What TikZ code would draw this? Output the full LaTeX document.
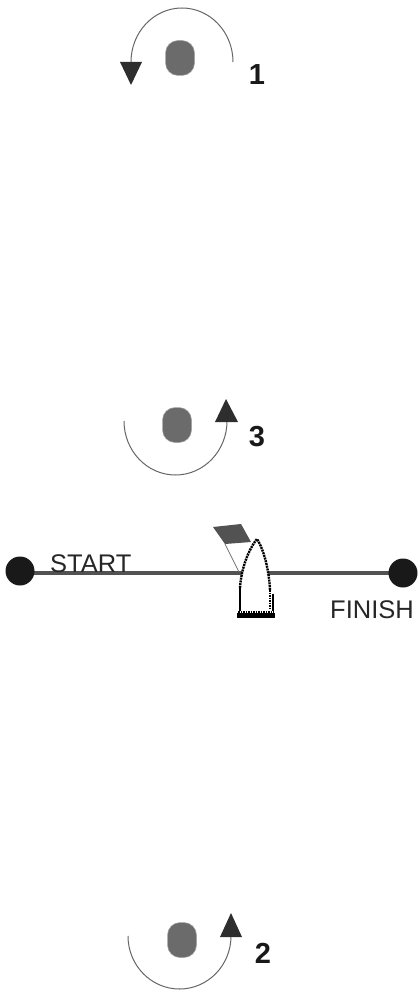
\documentclass[tikz,border=0pt]{standalone}
\usepackage{fontspec}
\setmainfont{Liberation Sans}
\begin{document}
\begin{tikzpicture}[x=1pt,y=-1pt,
  buoy/.style={draw=gray!70,line width=.5pt,fill=black!58,rounded corners=12.5pt,minimum width=29pt,minimum height=35pt,inner sep=0pt},
  turn/.style={draw=black!60,line width=1pt},
  tip/.style={fill=black!82,draw=none},
  endmark/.style={circle,fill=black!90,minimum size=29pt,inner sep=0pt},
  num/.style={font=\fontsize{29}{29}\selectfont\bfseries,text=black!90,inner sep=0pt},
  lab/.style={font=\fontsize{25.5}{26}\selectfont,text=black!85,inner sep=0pt,anchor=base west}]
\useasboundingbox (0,0) rectangle (418,992);
% course line
\coordinate (sc) at (20,573);
\coordinate (fc) at (403,573);
\draw[black!68,line width=3.4pt] (sc) -- (fc);
\node[endmark] (s) at (20,571) {};
\node[endmark] (f) at (403,573) {};
\node[lab] (st) at (50,572) {START};
\node[lab] (fi) at (330,618) {FINISH};
% buoy 1
\node[buoy] (b1) at (180,58) {};
\coordinate (a1s) at (233,62);
\draw[turn] (a1s) arc[start angle=0,end angle=180,x radius=51,y radius=-54];
\fill[tip] (120,62) -- (142,62) -- (131,85) -- cycle;
\node[num] (n1) at (257,75) {1};
% buoy 3
\node[buoy] (b3) at (177,425) {};
\coordinate (a3s) at (124,421);
\draw[turn] (a3s) arc[start angle=180,end angle=360,x radius=51.5,y radius=-54];
\fill[tip] (215,422) -- (238,422) -- (226,399) -- cycle;
\node[num] (n3) at (257,437) {3};
% buoy 2
\node[buoy] (b2) at (182,940) {};
\coordinate (a2s) at (128,936);
\draw[turn] (a2s) arc[start angle=180,end angle=360,x radius=51.5,y radius=-53];
\fill[tip] (220,937) -- (242,937) -- (231,913) -- cycle;
\node[num] (n2) at (263,953) {2};
% flag
\fill[black!68] (213,527) -- (241,524) -- (251,542) -- (225,544) -- cycle;
\draw[black!55,line width=.8pt] (225,544) -- (239,572);
% boat
\path[fill=white] (240,614) -- (240,588) .. controls (241,570) and (248,550) .. (257,539)
  .. controls (264,550) and (269,570) .. (270,590) -- (272,614) -- cycle;
\draw[black,line width=2.4pt,dash pattern=on 2pt off .8pt]
  (240,588) .. controls (241,570) and (248,550) .. (257,539)
  .. controls (264,550) and (269,570) .. (270,590);
\draw[black,line width=2pt] (240,587) -- (240,611);
\draw[black,line width=2pt] (272.5,594) -- (272.5,611);
\draw[black,line width=2pt,dash pattern=on 1.5pt off 1pt] (270,590) -- (270,610);
\fill[black] (237,613) rectangle (275,617.5);
\draw[black,line width=2pt,dash pattern=on 1.5pt off 1pt] (238,611.5) -- (274,611.5);
\end{tikzpicture}
\end{document}
